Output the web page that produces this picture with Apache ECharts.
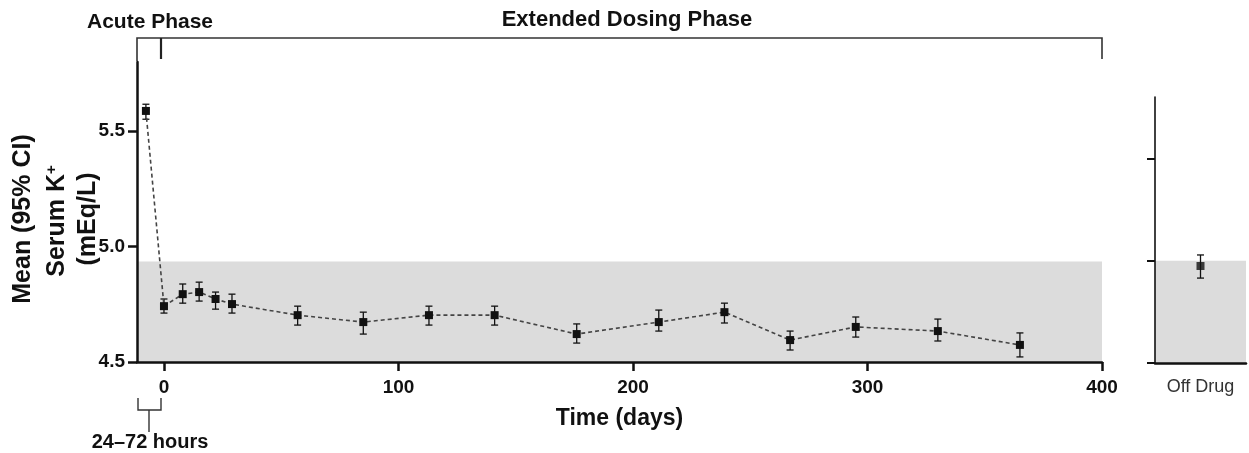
<!DOCTYPE html>
<html>
<head>
<meta charset="utf-8">
<script src="https://cdn.jsdelivr.net/npm/echarts@6/dist/echarts.min.js"></script>
<style>
html,body{margin:0;padding:0;background:#fff;}
#chart{width:1249px;height:453px;}
</style>
</head>
<body>
<div id="chart"></div>
<script>
// ---- data ----
const days   = [-7.7, 0, 8, 15, 22, 29, 57, 85, 113, 141, 176, 211, 239, 267, 295, 330, 365];
const meanK  = [5.588, 4.742, 4.794, 4.803, 4.773, 4.751, 4.703, 4.673, 4.703, 4.703, 4.621, 4.673, 4.716, 4.595, 4.652, 4.634, 4.574];
const ciLow  = [5.552, 4.712, 4.755, 4.764, 4.729, 4.712, 4.660, 4.621, 4.660, 4.660, 4.582, 4.634, 4.669, 4.552, 4.608, 4.591, 4.522];
const ciHigh = [5.617, 4.773, 4.838, 4.846, 4.803, 4.794, 4.742, 4.716, 4.742, 4.742, 4.665, 4.725, 4.755, 4.634, 4.695, 4.686, 4.626];
const offCategories = ['Off Drug'];
const offMean = [4.974];
const offLow  = [4.915];
const offHigh = [5.028];
const xTickValues = [0, 100, 200, 300, 400];
const yTickValues = [4.5, 5.0, 5.5];
const normalBandMain = [4.5, 4.935];
const normalBandOff  = [4.5, 5.0];

const FONT = '"Liberation Sans", Arial, sans-serif';

const chart = echarts.init(document.getElementById('chart'), null, {renderer:'canvas'});

function errRender(params, api) {
  const x = api.value(0), lo = api.value(1), hi = api.value(2);
  const a = api.coord([x, lo]), b = api.coord([x, hi]);
  const w = 3.5;
  const st = {stroke:'#111', lineWidth:1.3};
  return {type:'group', children:[
    {type:'line', shape:{x1:a[0], y1:a[1], x2:b[0], y2:b[1]}, style:st},
    {type:'line', shape:{x1:a[0]-w, y1:a[1], x2:a[0]+w, y2:a[1]}, style:st},
    {type:'line', shape:{x1:b[0]-w, y1:b[1], x2:b[0]+w, y2:b[1]}, style:st}
  ]};
}

const mainPts = days.map((d,i)=>[d, meanK[i]]);
const mainErr = days.map((d,i)=>[d, ciLow[i], ciHigh[i]]);
const offPts  = offCategories.map((c,i)=>[i, offMean[i]]);
const offErr  = offCategories.map((c,i)=>[i, offLow[i], offHigh[i]]);

const tickLabel = {fontFamily:FONT, fontWeight:'bold', fontSize:19, color:'#111'};

const option = {
  backgroundColor:'#fff',
  animation:false,
  grid:[
    {left:137, top:62, width:965, height:300},
    {left:1155, top:97, width:91, height:266}
  ],
  xAxis:[
    {type:'value', gridIndex:0, min:-11.5, max:400, z:10,
     axisLine:{show:true, onZero:false, lineStyle:{color:'#111', width:2.5}},
     axisTick:{show:true, length:9, customValues:xTickValues, lineStyle:{color:'#111', width:2.5}},
     axisLabel:Object.assign({customValues:xTickValues, margin:16}, tickLabel),
     splitLine:{show:false},
     name:'Time (days)', nameLocation:'middle', nameGap:45,
     nameTextStyle:{fontFamily:FONT, fontWeight:'bold', fontSize:23, color:'#111'}},
    {type:'category', gridIndex:1, data:offCategories, z:10,
     axisLine:{show:true, lineStyle:{color:'#111', width:2.5}},
     axisTick:{show:false},
     axisLabel:{fontFamily:FONT, fontSize:18, color:'#333', margin:15},
     splitLine:{show:false}}
  ],
  yAxis:[
    {type:'value', gridIndex:0, min:4.5, max:5.8, z:10,
     axisLine:{show:true, onZero:false, lineStyle:{color:'#111', width:2.5}},
     axisTick:{show:true, length:9, customValues:yTickValues, lineStyle:{color:'#111', width:2.5}},
     axisLabel:Object.assign({customValues:yTickValues, margin:12, formatter:v=>v.toFixed(1)}, tickLabel),
     splitLine:{show:false}},
    {type:'value', gridIndex:1, min:4.5, max:5.8, z:10,
     axisLine:{show:true, onZero:false, lineStyle:{color:'#111', width:1.6}},
     axisTick:{show:true, length:8, customValues:yTickValues, lineStyle:{color:'#111', width:2}},
     axisLabel:{show:false},
     splitLine:{show:false}}
  ],
  series:[
    {type:'custom', xAxisIndex:0, yAxisIndex:0, data:mainErr, renderItem:errRender, z:3,
     encode:{x:0, y:[1,2]}},
    {type:'line', xAxisIndex:0, yAxisIndex:0, data:mainPts, z:4,
     symbol:'rect', symbolSize:8, itemStyle:{color:'#111'},
     lineStyle:{color:'#444', width:1.6, type:[4,3]},
     markArea:{silent:true, itemStyle:{color:'#dcdcdc'},
       data:[[{yAxis:normalBandMain[0]},{yAxis:normalBandMain[1]}]]}},
    {type:'custom', xAxisIndex:1, yAxisIndex:1, data:offErr, renderItem:errRender, z:3,
     encode:{x:0, y:[1,2]}},
    {type:'scatter', xAxisIndex:1, yAxisIndex:1, data:offPts, z:4,
     symbol:'rect', symbolSize:8, itemStyle:{color:'#111'},
     markArea:{silent:true, itemStyle:{color:'#dcdcdc'},
       data:[[{yAxis:normalBandOff[0]},{yAxis:normalBandOff[1]}]]}}
  ],
  graphic:[
    // top brackets
    {type:'polyline', shape:{points:[[137,61],[137,38],[1102,38],[1102,59]]}, style:{stroke:'#333', lineWidth:1.6, fill:null}},
    {type:'line', shape:{x1:161, y1:38, x2:161, y2:59}, style:{stroke:'#222', lineWidth:2.2}},
    {type:'text', x:150, y:22, style:{text:'Acute Phase', fontFamily:FONT, fontWeight:'bold', fontSize:21, fill:'#111', align:'center', verticalAlign:'middle'}},
    {type:'text', x:627, y:20, style:{text:'Extended Dosing Phase', fontFamily:FONT, fontWeight:'bold', fontSize:22, fill:'#111', align:'center', verticalAlign:'middle'}},
    // bottom bracket
    {type:'polyline', shape:{points:[[138,398],[138,410],[161,410],[161,398]]}, style:{stroke:'#333', lineWidth:1.4, fill:null}},
    {type:'line', shape:{x1:149, y1:410, x2:149, y2:432}, style:{stroke:'#333', lineWidth:1.4}},
    {type:'text', x:150, y:442, style:{text:'24\u201372 hours', fontFamily:FONT, fontWeight:'bold', fontSize:20, fill:'#111', align:'center', verticalAlign:'middle'}},
    // y-axis title
    {type:'text', x:23, y:219, rotation:Math.PI/2, style:{text:'Mean (95% CI)', fontFamily:FONT, fontWeight:'bold', fontSize:25, fill:'#111', align:'center', verticalAlign:'middle'}},
    {type:'text', x:57, y:221, rotation:Math.PI/2, style:{text:'{a|Serum K}{s|+}', align:'center', verticalAlign:'middle',
      rich:{a:{fontFamily:FONT, fontWeight:'bold', fontSize:25, fill:'#111'}, s:{fontFamily:FONT, fontWeight:'bold', fontSize:15, fill:'#111', verticalAlign:'top'}}}},
    {type:'text', x:88, y:219, rotation:Math.PI/2, style:{text:'(mEq/L)', fontFamily:FONT, fontWeight:'bold', fontSize:25, fill:'#111', align:'center', verticalAlign:'middle'}}
  ]
};
chart.setOption(option);
</script>
</body>
</html>
